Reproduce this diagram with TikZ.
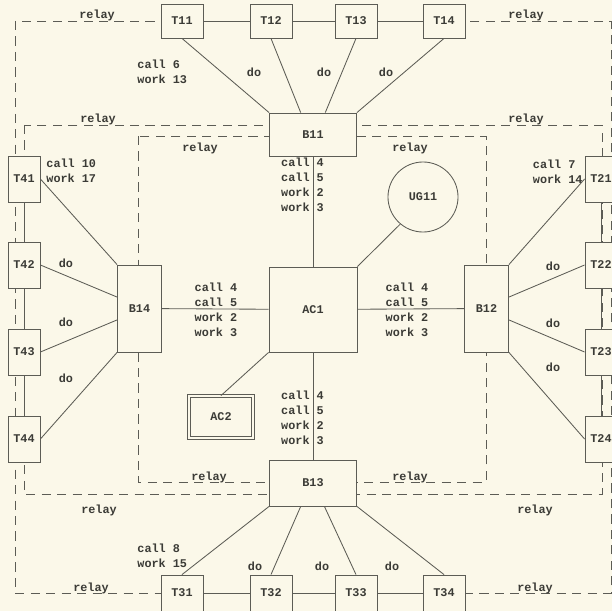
\documentclass[tikz,border=0pt]{standalone}
\usepackage{fontspec}
\setmonofont{Liberation Mono}
\usepackage{tikz}
\usetikzlibrary{calc,positioning}
\definecolor{paper}{HTML}{FBF8E9}
\definecolor{ink}{HTML}{5C5C55}
\definecolor{type}{HTML}{3B3B36}

\begin{document}
\begin{tikzpicture}[x=0.025cm,y=-0.025cm,color=ink,line width=0.6pt,
  font=\ttfamily\bfseries\fontsize{8.4}{10.7}\selectfont,
  every node/.style={text=type},
  tbox/.style={draw=ink,fill=paper,inner sep=0pt,minimum width=1.05cm,minimum height=0.85cm},
  sbox/.style={tbox,minimum width=0.8cm,minimum height=1.15cm},
  relayline/.style={dash pattern=on 6.5pt off 4.5pt},
  stack/.style={align=left,inner sep=0pt},
  onrelay/.style={anchor=base,inner sep=0pt}]
\fill[paper] (0,0) rectangle (612,611);
\useasboundingbox (0,0) rectangle (612,611);
% relay frames
\draw[relayline] (15,21) rectangle (611,593);
\draw[relayline] (24,125) rectangle (602,494);
\draw[relayline] (138,136) rectangle (486,482);
% terminals
\node[tbox] (T11) at (182,21) {T11};
\node[tbox] (T12) at (271,21) {T12};
\node[tbox] (T13) at (356,21) {T13};
\node[tbox] (T14) at (444,21) {T14};
\node[tbox,minimum height=0.9cm] (T31) at (182,593) {T31};
\node[tbox,minimum height=0.9cm] (T32) at (271,593) {T32};
\node[tbox,minimum height=0.9cm] (T33) at (356,593) {T33};
\node[tbox,minimum height=0.9cm] (T34) at (444,593) {T34};
\node[sbox] (T41) at (24,179) {T41};
\node[sbox] (T42) at (24,265) {T42};
\node[sbox] (T43) at (24,352) {T43};
\node[sbox] (T44) at (24,439) {T44};
\node[sbox] (T21) at (601,179) {T21};
\node[sbox] (T22) at (601,265) {T22};
\node[sbox] (T23) at (601,352) {T23};
\node[sbox] (T24) at (601,439) {T24};
% branches and centre
\node[tbox,minimum width=2.175cm,minimum height=1.075cm] (B11) at (313,134.5) {B11};
\node[tbox,minimum width=2.175cm,minimum height=1.15cm] (B13) at (313,483) {B13};
\node[tbox,minimum width=1.1cm,minimum height=2.175cm] (B14) at (139.5,308.5) {B14};
\node[tbox,minimum width=1.1cm,minimum height=2.175cm] (B12) at (486.5,308.5) {B12};
\node[tbox,minimum width=2.2cm,minimum height=2.125cm] (AC1) at (313,309.5) {AC1};
\node[circle,draw=ink,fill=paper,minimum size=1.75cm,inner sep=0pt] (UG11) at (423,197) {UG11};
\node[tbox,double=paper,double distance=1.8pt,minimum width=1.6cm,minimum height=1.05cm] (AC2) at (221,417) {AC2};
% connectors
\foreach \a/\b in {T11/T12,T12/T13,T13/T14,T31/T32,T32/T33,T33/T34,
  T41/T42,T42/T43,T43/T44,T21/T22,T22/T23,T23/T24,
  B11/AC1,AC1/B13,AC1/B14,AC1/B12}
  \draw (\a) -- (\b);
\draw (T11.south) -- (B11.north west);
\draw (T12.south) -- ($(B11.north west)!0.36!(B11.north east)$);
\draw (T13.south) -- ($(B11.north west)!0.64!(B11.north east)$);
\draw (T14.south) -- (B11.north east);
\draw (B13.south west) -- (T31.north);
\draw ($(B13.south west)!0.36!(B13.south east)$) -- (T32.north);
\draw ($(B13.south west)!0.63!(B13.south east)$) -- (T33.north);
\draw (B13.south east) -- (T34.north);
\draw (T41.east) -- (B14.north west);
\draw (T42.east) -- (B14.153);
\draw (T43.east) -- (B14.207);
\draw (T44.east) -- (B14.south west);
\draw (T21.west) -- (B12.north east);
\draw (T22.west) -- (B12.27);
\draw (T23.west) -- (B12.333);
\draw (T24.west) -- (B12.south east);
\draw (AC1.north east) -- (UG11.230);
\draw (AC1.south west) -- (AC2.north);
% traffic figures
\node[stack] (qB11) at (302.5,184.5) {call 4\\call 5\\work 2\\work 3};
\node[stack] (qB13) at (302.5,418) {call 4\\call 5\\work 2\\work 3};
\node[stack] (qB14) at (216,310) {call 4\\call 5\\work 2\\work 3};
\node[stack] (qB12) at (407,310) {call 4\\call 5\\work 2\\work 3};
\node[stack,anchor=west] (qT11) at (137,72) {call 6\\work 13};
\node[stack,anchor=west] (qT41) at (46,171) {call 10\\work 17};
\node[stack,anchor=east] (qT21) at (583,172) {call 7\\work 14};
\node[stack,anchor=west] (qT31) at (137,556) {call 8\\work 15};
\foreach \p [count=\i] in {(254,72),(324,72),(386,72),(66,263),(66,322),(66,378),
  (553,266),(553,323),(553,367),(255,566),(322,566),(392,566)}
  \node (do\i) at \p {do};
% relay labels
\node[onrelay] (r1) at (97,19) {relay};
\node[onrelay] (r2) at (526,19) {relay};
\node[onrelay] (r3) at (98,123) {relay};
\node[onrelay] (r4) at (526,123) {relay};
\node[below=1pt] (r5) at (200,136) {relay};
\node[below=1pt] (r6) at (410,136) {relay};
\node[onrelay] (r7) at (209,480) {relay};
\node[onrelay] (r8) at (410,480) {relay};
\node[below=4pt] (r9) at (99,494) {relay};
\node[below=4pt] (r10) at (535,494) {relay};
\node[onrelay] (r11) at (91,591) {relay};
\node[onrelay] (r12) at (535,591) {relay};
\end{tikzpicture}
\end{document}
